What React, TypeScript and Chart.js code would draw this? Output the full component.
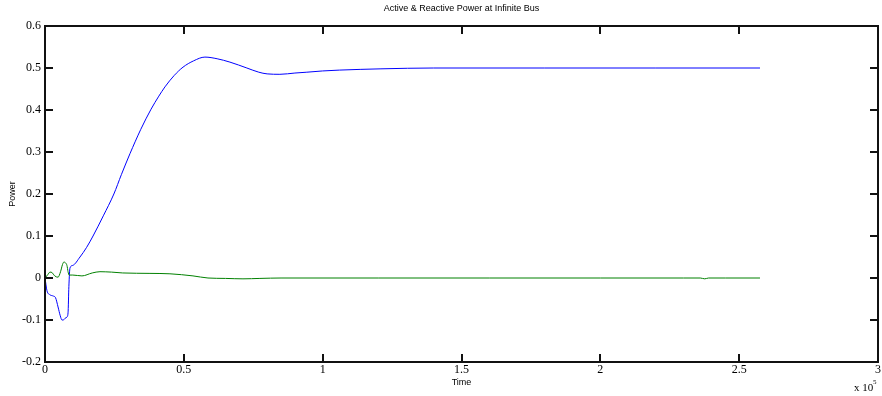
import React, { useEffect, useRef } from "react";
import { Chart, registerables } from "chart.js";

Chart.register(...registerables);

// Time in units of 10^5
const activeTime = [0, 0.007, 0.018, 0.03, 0.038, 0.047, 0.055, 0.061, 0.066, 0.072, 0.079, 0.083, 0.086, 0.09, 0.1, 0.126, 0.15, 0.173, 0.21, 0.248, 0.275, 0.306, 0.345, 0.382, 0.41, 0.432, 0.465, 0.497, 0.535, 0.576, 0.62, 0.666, 0.727, 0.77, 0.8, 0.846, 0.9, 0.943, 1.0, 1.06, 1.21, 1.4, 1.8, 2.2, 2.575];
const activePower = [0, -0.03, -0.04, -0.043, -0.047, -0.069, -0.09, -0.1, -0.1, -0.096, -0.093, -0.083, -0.02, 0.024, 0.03, 0.05, 0.073, 0.1, 0.148, 0.2, 0.246, 0.296, 0.354, 0.402, 0.433, 0.455, 0.482, 0.502, 0.517, 0.526, 0.522, 0.514, 0.5, 0.49, 0.486, 0.485, 0.488, 0.49, 0.493, 0.495, 0.498, 0.5, 0.5, 0.5, 0.5];

const reactiveTime = [0, 0.01, 0.018, 0.025, 0.035, 0.047, 0.056, 0.063, 0.068, 0.074, 0.079, 0.083, 0.087, 0.1, 0.133, 0.17, 0.198, 0.24, 0.28, 0.378, 0.45, 0.533, 0.587, 0.65, 0.713, 0.774, 0.85, 1.2, 1.6, 2.0, 2.3, 2.36, 2.376, 2.39, 2.45, 2.575];
const reactivePower = [0, 0.008, 0.014, 0.013, 0.005, 0.002, 0.015, 0.032, 0.038, 0.036, 0.03, 0.015, 0.007, 0.007, 0.005, 0.012, 0.015, 0.014, 0.012, 0.011, 0.01, 0.005, 0, -0.001, -0.002, -0.001, 0, 0, 0, 0, 0, 0, -0.002, 0, 0, 0];

const xTicks = [0, 0.5, 1, 1.5, 2, 2.5, 3];
const yTicks = [-0.2, -0.1, 0, 0.1, 0.2, 0.3, 0.4, 0.5, 0.6];

const titleText = "Active & Reactive Power at Infinite Bus";
const xLabel = "Time";
const yLabel = "Power";

const SERIF = "'Liberation Serif', 'Times New Roman', serif";

const framePlugin = {
  id: "matlabFrame",
  afterDraw(chart: any) {
    const ctx = chart.ctx;
    const ca = chart.chartArea;
    const xs = chart.scales.x;
    const ys = chart.scales.y;
    const L = Math.round(ca.left);
    const R = Math.round(ca.right);
    const T = Math.round(ca.top);
    const B = Math.round(ca.bottom);
    ctx.save();
    ctx.fillStyle = "#111";
    const w = 2;
    ctx.fillRect(L - 1, T - 1, R - L + w, w);
    ctx.fillRect(L - 1, B - 1, R - L + w, w);
    ctx.fillRect(L - 1, T - 1, w, B - T + w);
    ctx.fillRect(R - 1, T - 1, w, B - T + w);
    const tl = 8;
    for (const v of xTicks) {
      const px = Math.round(xs.getPixelForValue(v));
      ctx.fillRect(px - 1, B - tl, w, tl);
      ctx.fillRect(px - 1, T, w, tl);
    }
    for (const v of yTicks) {
      const py = Math.round(ys.getPixelForValue(v));
      ctx.fillRect(L, py - 1, tl, w);
      ctx.fillRect(R - tl, py - 1, tl, w);
    }

    ctx.fillStyle = "#000";
    ctx.font = "9px 'Liberation Sans', Arial, sans-serif";
    ctx.textAlign = "center";
    ctx.textBaseline = "middle";
    const cx = (ca.left + ca.right) / 2;
    ctx.fillText(titleText, cx, 9);
    ctx.fillText(xLabel, cx, 383);
    ctx.save();
    ctx.translate(13, (ca.top + ca.bottom) / 2);
    ctx.rotate(-Math.PI / 2);
    ctx.fillText(yLabel, 0, 0);
    ctx.restore();

    ctx.font = "11px " + SERIF;
    ctx.textAlign = "left";
    ctx.fillText("x 10", 854, 388);
    ctx.font = "7px " + SERIF;
    ctx.fillText("5", 873, 382);
    ctx.restore();
  },
};

const fmt = (v: any) => String(Math.round(Number(v) * 10) / 10);

export default function App() {
  const ref = useRef<HTMLCanvasElement | null>(null);
  useEffect(() => {
    document.body.style.margin = "0";
    const canvas = ref.current;
    if (!canvas) return;
    const chart = new Chart(canvas, {
      type: "line",
      data: {
        datasets: [
          {
            label: "Active",
            data: activeTime.map((t, i) => ({ x: t, y: activePower[i] })),
            borderColor: "#0000ff",
            borderWidth: 1,
            pointRadius: 0,
            cubicInterpolationMode: "monotone",
            fill: false,
            order: 1,
          },
          {
            label: "Reactive",
            data: reactiveTime.map((t, i) => ({ x: t, y: reactivePower[i] })),
            borderColor: "#008000",
            borderWidth: 1,
            pointRadius: 0,
            cubicInterpolationMode: "monotone",
            fill: false,
            order: 0,
          },
        ],
      },
      options: {
        animation: false,
        responsive: false,
        maintainAspectRatio: false,
        layout: { padding: { top: 26, right: 4, left: 0, bottom: 0 } },
        plugins: { legend: { display: false }, tooltip: { enabled: false }, title: { display: false } },
        scales: {
          x: {
            type: "linear",
            min: 0,
            max: 3,
            afterBuildTicks: (s: any) => {
              s.ticks = xTicks.map((v) => ({ value: v }));
            },
            afterFit: (s: any) => {
              s.height = 34;
            },
            grid: { display: false, drawTicks: false },
            border: { display: false },
            ticks: {
              padding: 1,
              maxRotation: 0,
              autoSkip: false,
              color: "#000",
              font: { family: SERIF, size: 12 },
              callback: fmt,
            },
          },
          y: {
            type: "linear",
            min: -0.2,
            max: 0.6,
            afterBuildTicks: (s: any) => {
              s.ticks = yTicks.map((v) => ({ value: v }));
            },
            afterFit: (s: any) => {
              s.width = 45;
            },
            grid: { display: false, drawTicks: false },
            border: { display: false },
            ticks: {
              padding: 4,
              autoSkip: false,
              color: "#000",
              font: { family: SERIF, size: 12 },
              callback: fmt,
            },
          },
        },
      },
      plugins: [framePlugin],
    } as any);
    return () => chart.destroy();
  }, []);
  return (
    <div style={{ position: "absolute", left: 0, top: 0, width: 882, height: 396, background: "#fff" }}>
      <canvas ref={ref} width={882} height={396} style={{ display: "block", width: 882, height: 396 }} />
    </div>
  );
}
